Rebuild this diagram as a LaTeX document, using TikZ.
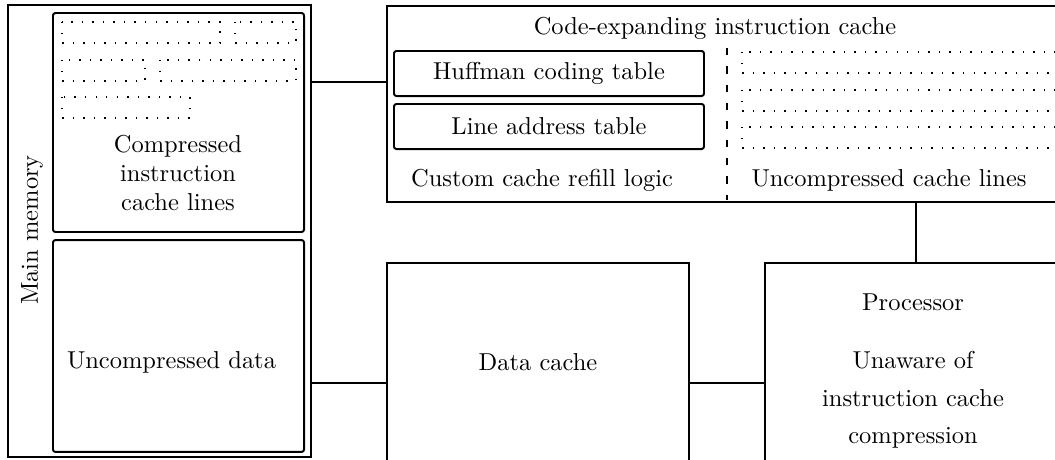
\documentclass[tikz,border=0pt]{standalone}
\usepackage{tikz}
\usetikzlibrary{positioning}
\tikzstyle{outerblock}=[rectangle, draw, semithick, inner sep=0pt]
\tikzstyle{memblock}=[rectangle, draw, thick, rounded corners=1pt, inner sep=0pt]
\tikzstyle{unitblock}=[rectangle, draw, thick, inner sep=0pt]
\tikzstyle{tableblock}=[rectangle, draw, thick, rounded corners=1pt, align=center, minimum width=126.7pt, minimum height=18.4pt]
\tikzstyle{cacheline}=[line width=0.6pt, dash pattern=on 0.6pt off 3.7pt]
\tikzstyle{divider}=[thick, dash pattern=on 3pt off 4.5pt]
\tikzstyle{link}=[thick]

\begin{document}
\begin{tikzpicture}[x=0.4087pt, y=-0.4087pt]
\useasboundingbox (0,0) rectangle (1055,459);
\clip (0,0) rectangle (1055,459);

% main memory
\node[outerblock, minimum width=123.8pt, minimum height=184.7pt] (mem) at (159.5,231) {};
\node[memblock, minimum width=102.6pt, minimum height=89.5pt] (comp) at (178.5,122.5) {};
\node[memblock, minimum width=102.6pt, minimum height=86.6pt] (udata) at (178.5,346) {};
\node[rotate=90] (memlabel) at (32,230) {Main memory};
\node[align=center] (comptext) at (178,173) {Compressed\\instruction\\cache lines};
\node (udatatext) at (171.5,362) {Uncompressed data};
\foreach \xa/\xb/\y in {62/220/22, 235/296/22, 62/145/60, 160/296/60, 62/190/97}
  \draw[cacheline] (\xa,\y) rectangle (\xb,\y+21);

% instruction cache
\node[unitblock, minimum width=277.9pt, minimum height=80.1pt] (icache) at (727,104) {};
\node (ictitle) at (715,28) {Code-expanding instruction cache};
\node[tableblock] (huff) at (549,73.5) {Huffman coding table};
\node[tableblock] (lat) at (549,126.5) {Line address table};
\node (refill) at (542,180) {Custom cache refill logic};
\node (ulines) at (889,180) {Uncompressed cache lines};
\draw[divider] (727,48) -- (727,200);
\foreach \y in {52,90,127}
  \draw[cacheline] (742,\y) rectangle (1062,\y+21);

% data cache and processor
\node[unitblock, minimum width=123.4pt, minimum height=98.1pt] (dcache) at (538,383) {};
\node[unitblock, minimum width=123.4pt, minimum height=98.1pt] (proc) at (916,383) {};
\node (dctext) at (538,362) {Data cache};
\node (proctitle) at (913,302) {Processor};
\node[align=center] (proctext) at (913,400) {Unaware of\\[3.3pt]instruction cache\\[3.3pt]compression};

\coordinate (memport) at (311,82);
\draw[link] (memport) -- (memport -| icache.west);
\draw[link] (mem.east |- dcache.west) -- (dcache.west);
\draw[link] (dcache.east) -- (proc.west);
\draw[link] (proc.north) -- (proc.north |- icache.south);

\end{tikzpicture}
\end{document}
